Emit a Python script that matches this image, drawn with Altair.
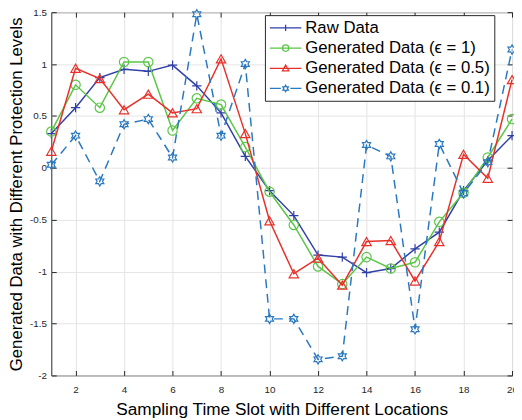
import math
import altair as alt
import pandas as pd

# ---------------- data ----------------
slots = list(range(1, 21))
raw = [0.33, 0.58, 0.87, 0.95, 0.93, 0.99, 0.79, 0.53, 0.11, -0.22,
       -0.46, -0.84, -0.86, -1.01, -0.97, -0.78, -0.62, -0.22, 0.07, 0.31]
eps1 = [0.35, 0.80, 0.58, 1.02, 1.02, 0.36, 0.67, 0.61, 0.20, -0.23,
        -0.55, -0.95, -1.12, -0.86, -0.97, -0.91, -0.52, -0.24, 0.10, 0.47]
eps05 = [0.16, 0.96, 0.86, 0.56, 0.71, 0.53, 0.57, 1.05, 0.33, -0.51,
         -1.02, -0.87, -1.13, -0.71, -0.70, -1.09, -0.71, 0.13, -0.10, 0.85]
eps01 = [0.03, 0.31, -0.13, 0.42, 0.47, 0.10, 1.48, 0.31, 1.00, -1.455,
         -1.455, -1.845, -1.815, 0.22, 0.11, -1.555, 0.23, -0.245, 0.055, 1.14]

series_names = ["Raw Data",
                "Generated Data (\u03f5 = 1)",
                "Generated Data (\u03f5 = 0.5)",
                "Generated Data (\u03f5 = 0.1)"]
series_values = [raw, eps1, eps05, eps01]

x_ticks = [2, 4, 6, 8, 10, 12, 14, 16, 18, 20]
y_ticks = [-2, -1.5, -1, -0.5, 0, 0.5, 1, 1.5]

frames = []
for name, vals in zip(series_names, series_values):
    frames.append(pd.DataFrame({"slot": slots, "value": vals, "series": name}))

# ---------------- styles ----------------
colors = ["#3040a6", "#5ac646", "#e8302a", "#2a78bf"]
dashes = [None, None, None, [9, 6]]


def hexagram(cx, cy, r):
    pts = []
    for k in range(12):
        ang = math.radians(-90 + 30 * k)
        rr = r if k % 2 == 0 else r / math.sqrt(3)
        pts.append((cx + rr * math.cos(ang), cy + rr * math.sin(ang)))
    return "M" + "L".join(f"{px:.3f},{py:.3f}" for px, py in pts) + "Z"


def circle(cx, cy, r):
    return (f"M{cx - r:.3f},{cy:.3f}A{r:.3f},{r:.3f} 0 1,1 {cx + r:.3f},{cy:.3f}"
            f"A{r:.3f},{r:.3f} 0 1,1 {cx - r:.3f},{cy:.3f}")


PLUS = "M-1,0H1M0,-1V1"
TRI = "M0,-0.87L1,0.87L-1,0.87Z"
HEX = hexagram(0, 0, 1)
shapes = [PLUS, "circle", TRI, HEX]

# legend symbols: line plus marker (unit = half of sqrt(symbolSize))
m = 0.4
leg_paths = [
    f"M-1,0H3M1,{-m}V{m}",
    "M-1,0H3" + circle(1, 0, m),
    f"M-1,0H3M1,{-m * 1.05:.3f}L{1 + m:.3f},{m * 0.8:.3f}L{1 - m:.3f},{m * 0.8:.3f}Z",
    "M-1,0H0.4M1.6,0H3" + hexagram(1, 0, m),
]
shape_expr = (
    f"datum.value === '{series_names[0]}' ? '{leg_paths[0]}' : "
    f"datum.value === '{series_names[1]}' ? '{leg_paths[1]}' : "
    f"datum.value === '{series_names[2]}' ? '{leg_paths[2]}' : '{leg_paths[3]}'"
)

FONT = "Liberation Sans"
AX = "#262626"

x_scale = alt.Scale(domain=[1, 20], nice=False, zero=False)
y_scale = alt.Scale(domain=[-2, 1.5], nice=False, zero=False)
color_scale = alt.Scale(domain=series_names, range=colors)

legend = alt.Legend(
    title=None, orient="none", legendX=217, legendY=3,
    fillColor="white", strokeColor=AX, padding=4, cornerRadius=0,
    labelFont=FONT, labelFontSize=17, labelColor="black", labelLimit=400,
    symbolSize=256, symbolStrokeWidth=1.3, labelOffset=19, rowPadding=3.5,
    symbolType={"expr": shape_expr},
    symbolStrokeColor={"expr": "scale('color', datum.value)"},
    symbolFillColor="transparent",
    symbolOpacity=1,
)

axis_bottom = alt.Axis(orient="bottom", values=x_ticks, offset=-5, tickSize=5,
                       tickColor=AX, tickWidth=1, domain=False, grid=True,
                       gridColor="#e4e4e4", gridWidth=1,
                       labelFont=FONT, labelFontSize=10, labelColor=AX,
                       labelPadding=9, labelFlush=False, labelOverlap=False,
                       title="Sampling Time Slot with Different Locations",
                       titleFont=FONT, titleFontSize=17.5, titleFontWeight="normal",
                       titleColor="black", titlePadding=7)
axis_left = alt.Axis(orient="left", values=y_ticks, offset=-5, tickSize=5,
                     tickColor=AX, tickWidth=1, domain=False, grid=True,
                     gridColor="#e4e4e4", gridWidth=1,
                     labelExpr="'' + datum.value",
                     labelFont=FONT, labelFontSize=10, labelColor=AX,
                     labelPadding=5, labelFlush=False, labelOverlap=False,
                     title="Generated Data with Different Protection Levels",
                     titleFont=FONT, titleFontSize=17, titleFontWeight="normal",
                     titleColor="black", titlePadding=4)
axis_top = alt.Axis(orient="top", values=x_ticks, offset=-5, tickSize=5,
                    tickColor=AX, tickWidth=1, domain=False, grid=False,
                    labels=False, title=None)
axis_right = alt.Axis(orient="right", values=y_ticks, offset=-5, tickSize=5,
                      tickColor=AX, tickWidth=1, domain=False, grid=False,
                      labels=False, title=None)

layers = []
for i, (name, frame) in enumerate(zip(series_names, frames)):
    line_kw = dict(strokeWidth=1.5)
    if dashes[i]:
        line_kw["strokeDash"] = dashes[i]
    line = alt.Chart(frame).mark_line(**line_kw).encode(
        x=alt.X("slot:Q", scale=x_scale, axis=axis_bottom if i == 0 else None),
        y=alt.Y("value:Q", scale=y_scale, axis=axis_left if i == 0 else None),
        color=alt.Color("series:N", scale=color_scale,
                        legend=legend if i == 0 else None),
    )
    pts = alt.Chart(frame).mark_point(shape=shapes[i], filled=False, strokeWidth=1.2,
                                      size=90, opacity=1).encode(
        x=alt.X("slot:Q", scale=x_scale, axis=axis_top if i == 0 else None),
        y=alt.Y("value:Q", scale=y_scale, axis=axis_right if i == 0 else None),
        color=alt.Color("series:N", scale=color_scale, legend=None),
    )
    layers += [line, pts]

chart = alt.layer(*layers).resolve_axis(
    x="independent", y="independent"
).properties(
    width=468, height=369,
    autosize=alt.AutoSizeParams(type="none"),
    padding={"left": 44, "top": 1, "right": 2, "bottom": 41},
).configure_view(stroke=AX, strokeWidth=1)

chart.save("out.html", embed_options={"renderer": "svg", "actions": False})
